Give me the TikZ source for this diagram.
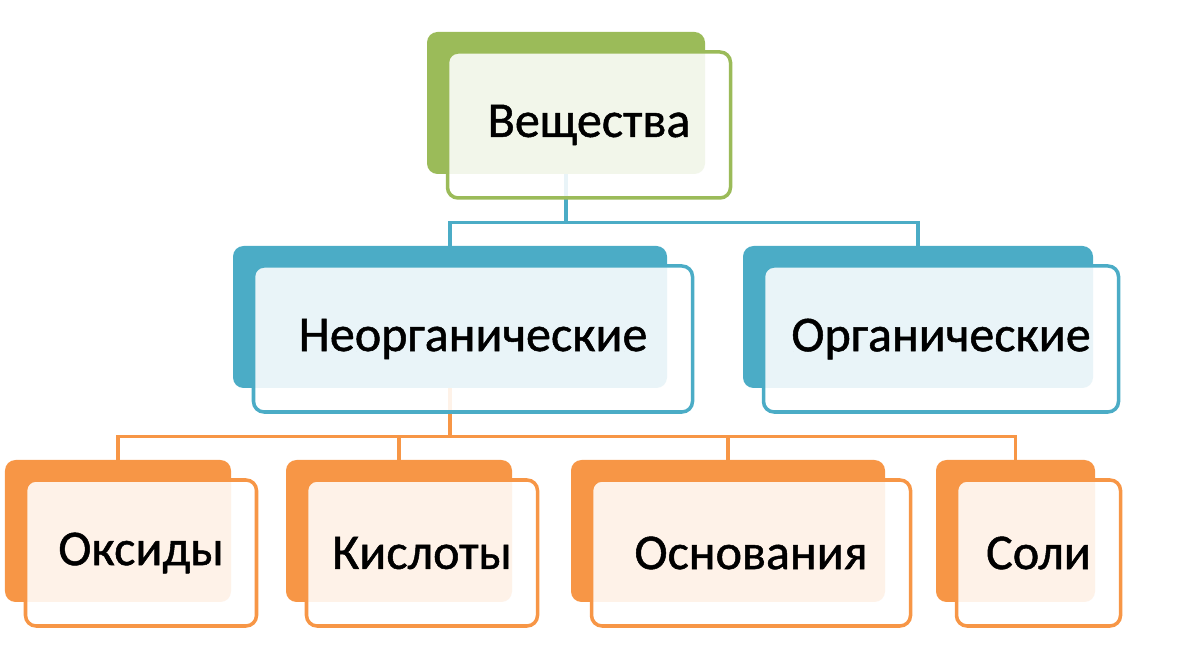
\documentclass[tikz,border=0pt]{standalone}
\usepackage{fontspec}
\setmainfont{Carlito}[BoldFont=Carlito, BoldFeatures={FakeBold=1.0}]

\definecolor{lvlgreen}{HTML}{9BBB59}
\definecolor{lvlblue}{HTML}{4BACC6}
\definecolor{lvlorange}{HTML}{F79646}

\tikzset{
  backbox/.style={rectangle, rounded corners=6pt, fill=#1, inner sep=0pt, minimum height=2.84cm},
  frontbox/.style={rectangle, rounded corners=6pt, draw=#1, line width=2pt, fill=white,
    fill opacity=0.88, text opacity=1, inner sep=0pt, minimum height=2.92cm,
    font=\fontsize{28.5}{34}\selectfont\bfseries},
  link/.style={draw=#1, line width=2pt},
}

\begin{document}
\begin{tikzpicture}
        \useasboundingbox (0, 0) rectangle (24, 13.2);

        % back boxes
        \node[backbox=lvlgreen, minimum width=5.56cm] (vb) at (11.32, 11.14) {};
        \node[backbox=lvlblue, minimum width=8.68cm] (nb) at (9.0, 6.86) {};
        \node[backbox=lvlblue, minimum width=7.0cm] (ob) at (18.36, 6.86) {};
        \node[backbox=lvlorange, minimum width=4.52cm] (oxb) at (2.36, 2.58) {};
        \node[backbox=lvlorange, minimum width=4.52cm] (acb) at (7.98, 2.58) {};
        \node[backbox=lvlorange, minimum width=6.28cm] (bab) at (14.56, 2.58) {};
        \node[backbox=lvlorange, minimum width=3.18cm] (slb) at (20.31, 2.58) {};

        % connectors
        \draw[link=lvlblue] (vb.south) -- ++(0, -0.96) -| (nb.north);
        \draw[link=lvlblue] (vb.south) -- ++(0, -0.96) -| (ob.north);
        \draw[link=lvlorange] (nb.south) -- ++(0, -0.96) -| (oxb.north);
        \draw[link=lvlorange] (nb.south) -- ++(0, -0.96) -| (acb.north);
        \draw[link=lvlorange] (nb.south) -- ++(0, -0.96) -| (bab.north);
        \draw[link=lvlorange] (nb.south) -- ++(0, -0.96) -| (slb.north);

        % front boxes
        \node[frontbox=lvlgreen, minimum width=5.66cm] (v) at ([shift={(0.46, -0.44)}]vb.center) {Вещества};
        \node[frontbox=lvlblue, minimum width=8.78cm] (n) at ([shift={(0.46, -0.44)}]nb.center) {Неорганические};
        \node[frontbox=lvlblue, minimum width=7.1cm] (o) at ([shift={(0.46, -0.44)}]ob.center) {Органические};
        \node[frontbox=lvlorange, minimum width=4.62cm] (ox) at ([shift={(0.46, -0.44)}]oxb.center) {Оксиды};
        \node[frontbox=lvlorange, minimum width=4.62cm] (ac) at ([shift={(0.46, -0.44)}]acb.center) {Кислоты};
        \node[frontbox=lvlorange, minimum width=6.38cm] (ba) at ([shift={(0.46, -0.44)}]bab.center) {Основания};
        \node[frontbox=lvlorange, minimum width=3.28cm] (sl) at ([shift={(0.46, -0.44)}]slb.center) {Соли};
      \end{tikzpicture}
\end{document}
